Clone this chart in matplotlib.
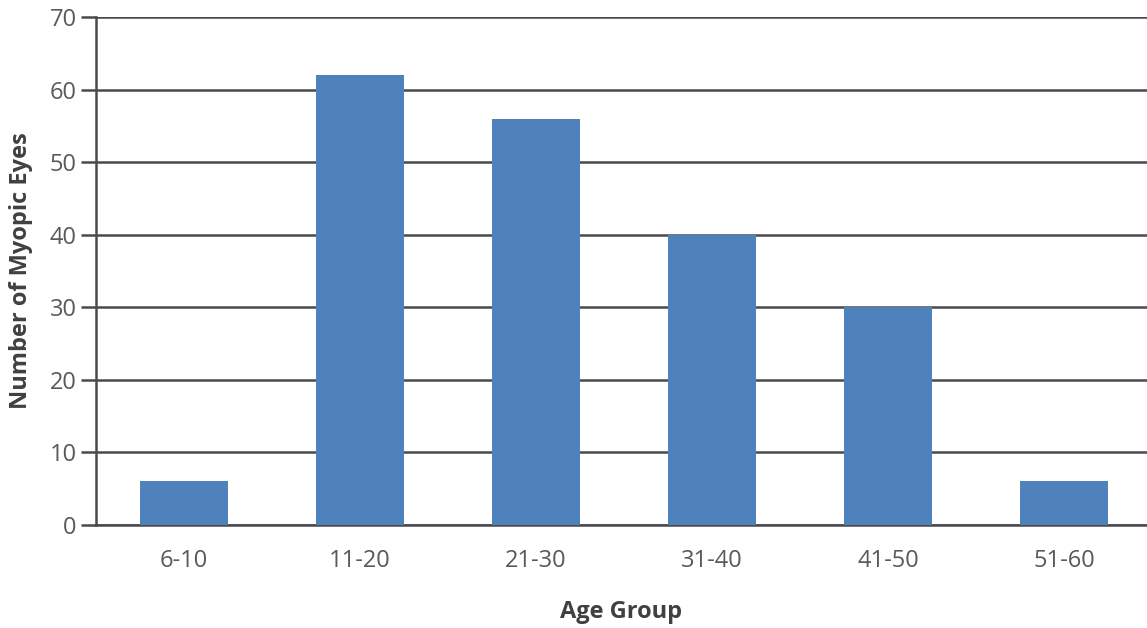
import matplotlib.pyplot as plt

age_groups = ['6-10', '11-20', '21-30', '31-40', '41-50', '51-60']
myopic_eyes = [6, 62, 56, 40, 30, 6]
y_ticks = [0, 10, 20, 30, 40, 50, 60, 70]

plt.rcParams['font.family'] = ['Open Sans', 'DejaVu Sans']

fig = plt.figure(figsize=(11.47, 6.28), dpi=100)
ax = fig.add_axes([0.0837, 0.164, 0.9163, 0.809])

ax.bar(range(len(age_groups)), myopic_eyes, width=0.5, color='#4F81BD', zorder=3)

ax.set_ylim(0, 70)
ax.set_xlim(-0.5, 5.47)
ax.set_yticks(y_ticks)
ax.set_xticks(range(len(age_groups)))
ax.set_xticklabels(age_groups)

# horizontal grid only, dark like the original
ax.yaxis.grid(True, color='#4a4a4a', linewidth=1.8, zorder=0)
ax.set_axisbelow(True)

for side in ['top', 'right']:
    ax.spines[side].set_visible(False)
ax.spines['left'].set_color('#4a4a4a')
ax.spines['left'].set_linewidth(1.8)
ax.spines['bottom'].set_color('#4a4a4a')
ax.spines['bottom'].set_linewidth(1.8)

ax.tick_params(axis='y', length=11, width=1.8, color='#4a4a4a', labelsize=17,
               labelcolor='#595959', pad=3)
ax.tick_params(axis='x', length=0, labelsize=17, labelcolor='#595959', pad=17)

ax.set_xlabel('Age Group', fontsize=17, fontweight='bold', color='#404040', labelpad=20)
ax.set_ylabel('Number of Myopic Eyes', fontsize=17, fontweight='bold', color='#404040', labelpad=12)

fig.savefig('out.png', dpi=100)
